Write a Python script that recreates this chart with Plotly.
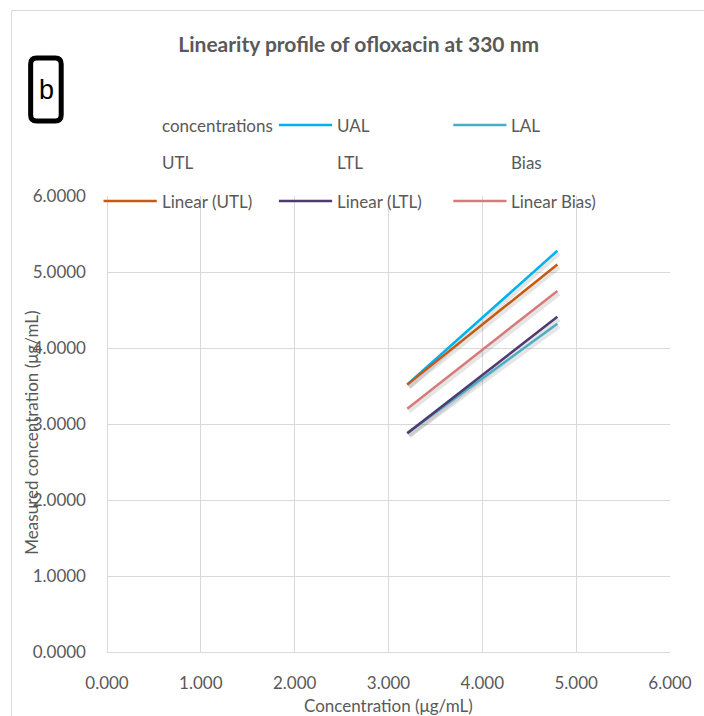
import numpy as np
import plotly.graph_objects as go

# Nominal concentrations (µg/mL)
conc = [3.2, 3.6, 4.0, 4.4, 4.8]
# Acceptance limits (upper / lower)
ual = [3.52, 3.96, 4.40, 4.84, 5.28]
lal = [2.88, 3.24, 3.60, 3.96, 4.32]
# Tolerance limits and bias
utl = [3.52, 3.91, 4.31, 4.70, 5.10]
ltl = [2.88, 3.26, 3.64, 4.03, 4.41]
bias = [3.20, 3.59, 3.98, 4.36, 4.75]

x_ticks = [0, 1, 2, 3, 4, 5, 6]
y_ticks = [0, 1, 2, 3, 4, 5, 6]

W, H = 704, 716
L, R, T, B = 106.5, 26, 196, 64
PW, PH = W - L - R, H - T - B

FONT = "Lato, Calibri, Carlito, sans-serif"
GREY = "#595959"
GRID = "#D9D9D9"
TXT = 17


def px(xp):
    return (xp - L) / PW


def py(yp):
    return (H - B - yp) / PH


fig = go.Figure()

# Raw series (no marker, no line)
for name, ys in [("concentrations", conc), ("UTL", utl), ("LTL", ltl), ("Bias", bias)]:
    fig.add_trace(go.Scatter(x=conc, y=ys, mode="none", name=name, showlegend=False,
                             hoverinfo="skip"))

# Linear trendlines of the tolerance limits and bias
def trend(ys):
    k, b = np.polyfit(conc, ys, 1)
    xs = np.array([conc[0], conc[-1]])
    return xs, k * xs + b


visible = []
visible.append(("UAL", np.array(conc), np.array(ual), "#00B0F0"))
visible.append(("LAL", np.array(conc), np.array(lal), "#4BACC6"))
for name, ys, col in [("Linear (UTL)", utl, "#C55A11"),
                      ("Linear (LTL)", ltl, "#4F3B6E"),
                      ("Linear Bias)", bias, "#D57B79")]:
    xs, yt = trend(ys)
    visible.append((name, xs, yt, col))

# soft drop shadow under each line
for name, xs, ys, col in visible:
    fig.add_trace(go.Scatter(x=xs + 0.02, y=ys - 0.035, mode="lines",
                             line=dict(color="rgba(0,0,0,0.10)", width=4),
                             showlegend=False, hoverinfo="skip"))
for name, xs, ys, col in visible:
    fig.add_trace(go.Scatter(x=xs, y=ys, mode="lines", name=name,
                             line=dict(color=col, width=2.5), showlegend=False))

# Legend laid out in a 3-column grid
legend_items = [("concentrations", None), ("UAL", "#00B0F0"), ("LAL", "#4BACC6"),
                ("UTL", None), ("LTL", None), ("Bias", None),
                ("Linear (UTL)", "#C55A11"), ("Linear (LTL)", "#4F3B6E"),
                ("Linear Bias)", "#D57B79")]
col_line_x = [103, 281, 458]
row_y = [125, 163, 201]
seg = 54
shapes = []
annotations = []
for i, (label, col) in enumerate(legend_items):
    r, c = divmod(i, 3)
    x0 = col_line_x[c]
    yy = row_y[r]
    if col:
        shapes.append(dict(type="line", xref="paper", yref="paper",
                           x0=px(x0), x1=px(x0 + seg), y0=py(yy), y1=py(yy),
                           line=dict(color=col, width=2.5)))
    annotations.append(dict(text=label, xref="paper", yref="paper",
                            x=px(x0 + seg + 3), y=py(yy), xanchor="left", yanchor="middle",
                            showarrow=False, font=dict(family=FONT, size=TXT, color=GREY)))

# Chart-area border
shapes.append(dict(type="rect", xref="paper", yref="paper", layer="below",
                   x0=px(9.5), x1=px(730), y0=py(10.5), y1=py(740),
                   line=dict(color=GRID, width=1), fillcolor="rgba(0,0,0,0)"))
# Panel label box
shapes.append(dict(type="path", xref="paper", yref="paper",
                   path=("M {a},{b} L {c},{b} Q {e},{b} {e},{f} L {e},{g} Q {e},{h} {c},{h} "
                         "L {a},{h} Q {i},{h} {i},{g} L {i},{f} Q {i},{b} {a},{b} Z").format(
                       a=px(35), c=px(54), e=px(60), i=px(29),
                       b=py(58), f=py(64), g=py(115), h=py(121)),
                   line=dict(color="black", width=5), fillcolor="white"))
annotations.append(dict(text="b", xref="paper", yref="paper", x=px(45), y=py(90),
                        xanchor="center", yanchor="middle", showarrow=False,
                        font=dict(family="Liberation Sans, Arial, sans-serif", size=27,
                                  color="black")))

# Axis titles
annotations.append(dict(text="Concentration (μg/mL)", xref="paper", yref="paper",
                        x=px(392), y=py(705), xanchor="center", yanchor="middle",
                        showarrow=False, font=dict(family=FONT, size=TXT, color=GREY)))
annotations.append(dict(text="Measured concentration (μg/mL)", xref="paper", yref="paper",
                        x=px(29), y=py(433), xanchor="center", yanchor="middle",
                        textangle=-90, showarrow=False,
                        font=dict(family=FONT, size=TXT, color=GREY)))

fig.update_layout(
    width=W, height=H,
    margin=dict(l=L, r=R, t=T, b=B),
    paper_bgcolor="white", plot_bgcolor="white",
    showlegend=False,
    title=dict(text="<b>Linearity profile of ofloxacin at 330 nm</b>",
               xref="paper", x=px(362), xanchor="center",
               yref="container", y=1 - 45 / H, yanchor="middle",
               font=dict(family=FONT, size=21, color=GREY)),
    xaxis=dict(range=[0, 6], tickvals=x_ticks, tickformat=".3f", showgrid=True,
               gridcolor=GRID, gridwidth=1, zeroline=True, zerolinecolor=GRID,
               zerolinewidth=1, showline=True, linecolor=GRID, mirror=False,
               ticks="", ticklabelstandoff=16,
               tickfont=dict(family=FONT, size=TXT, color=GREY), fixedrange=True),
    yaxis=dict(range=[0, 6], tickvals=y_ticks, tickformat=".4f", showgrid=True,
               gridcolor=GRID, gridwidth=1, zeroline=True, zerolinecolor=GRID,
               zerolinewidth=1, showline=False,
               ticks="", ticklabelstandoff=20,
               tickfont=dict(family=FONT, size=TXT, color=GREY), fixedrange=True),
    shapes=shapes,
    annotations=annotations,
)

fig.write_html("out.html")
